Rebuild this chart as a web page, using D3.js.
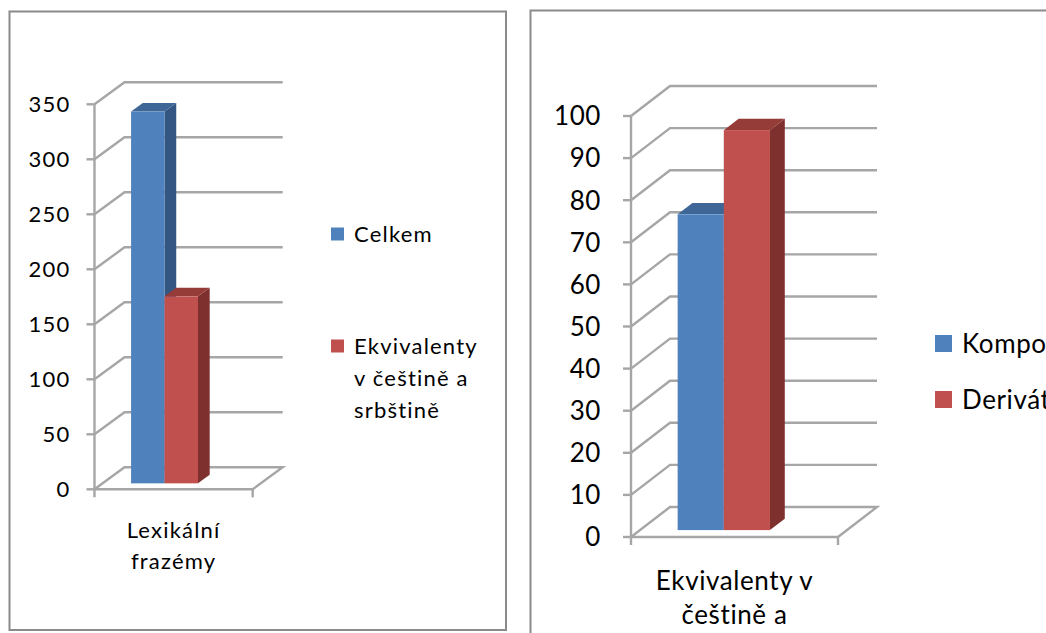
<!DOCTYPE html>
<html>
<head>
<meta charset="utf-8">
<script src="https://cdn.jsdelivr.net/npm/d3@7"></script>
<style>
  html, body { margin: 0; padding: 0; background: #fff; }
  svg { display: block; }
  text { font-family: Lato, "Open Sans", sans-serif; fill: #000; }
</style>
</head>
<body>
<svg id="chart" width="1046" height="633"></svg>
<script>
// Lexical phrasemes: total count and those with equivalents in Czech and Serbian
const leftCategories = ["Lexikální frazémy"];
const leftSeries = ["Celkem", "Ekvivalenty v češtině a srbštině"];
const leftValues = [338, 170];
const leftTicks = [0, 50, 100, 150, 200, 250, 300, 350];

// Equivalents in Czech and Serbian, split by word-formation type
const rightCategories = ["Ekvivalenty v češtině a srbštině"];
const rightSeries = ["Kompozita", "Deriváty"];
const rightValues = [75, 95];
const rightTicks = [0, 10, 20, 30, 40, 50, 60, 70, 80, 90, 100];

// Front, side and top shades of each series colour
const seriesFront = ["#4F81BD", "#C0504D"];
const seriesSide  = ["#345682", "#7D302E"];
const seriesTop   = ["#3E6797", "#953C39"];

const svg = d3.select("#chart");

// Break a string into lines no wider than maxWidth
function wrapLines(text, maxWidth, font, spacing) {
  const probe = svg.append("text").style("font-size", font + "px")
    .style("letter-spacing", spacing + "px");
  const words = text.split(" ");
  const lines = [];
  let line = [];
  words.forEach(w => {
    const tryLine = line.concat([w]).join(" ");
    probe.text(tryLine);
    if (line.length && probe.node().getComputedTextLength() > maxWidth) {
      lines.push(line.join(" "));
      line = [w];
    } else {
      line.push(w);
    }
  });
  if (line.length) lines.push(line.join(" "));
  probe.remove();
  return lines;
}

function drawPanel(cfg) {
  const g = svg.append("g");

  // panel frame
  g.append("rect")
    .attr("x", cfg.frame[0]).attr("y", cfg.frame[1])
    .attr("width", cfg.frame[2]).attr("height", cfg.frame[3])
    .attr("fill", "none").attr("stroke", "#8a8a8a").attr("stroke-width", 2);

  const y = d3.scaleLinear().domain([0, d3.max(cfg.ticks)]).range(cfg.yRange);
  const x = d3.scaleBand().domain(cfg.categories).range(cfg.xRange).padding(0);
  const [dx, dy] = cfg.depth;
  const x0 = cfg.xRange[0], x1 = cfg.xRange[1];
  const grid = "#A6A6A6";
  const gw = 2.4;

  // back wall gridlines with their side-wall diagonals
  cfg.ticks.filter(t => t > 0).forEach(t => {
    g.append("path")
      .attr("d", d3.line()([[x0, y(t)], [x0 + dx, y(t) + dy], [x1 + dx, y(t) + dy]]))
      .attr("fill", "none").attr("stroke", grid).attr("stroke-width", gw);
  });
  // floor
  const y0 = y(0);
  g.append("path")
    .attr("d", d3.line()([[x0, y0], [x0 + dx, y0 + dy], [x1 + dx, y0 + dy], [x1, y0], [x0, y0]]))
    .attr("fill", "none").attr("stroke", grid).attr("stroke-width", gw);
  // value axis line and ticks
  g.append("line").attr("x1", x0).attr("x2", x0)
    .attr("y1", y(d3.max(cfg.ticks))).attr("y2", y0 + 8)
    .attr("stroke", grid).attr("stroke-width", gw);
  cfg.ticks.forEach(t => {
    g.append("line").attr("x1", x0 - 8).attr("x2", x0)
      .attr("y1", y(t)).attr("y2", y(t))
      .attr("stroke", grid).attr("stroke-width", gw);
  });
  g.append("line").attr("x1", x1).attr("x2", x1)
    .attr("y1", y0).attr("y2", y0 + 8)
    .attr("stroke", grid).attr("stroke-width", gw);

  // tick labels
  cfg.ticks.forEach(t => {
    g.append("text").attr("x", x0 - cfg.labelGap).attr("y", y(t))
      .attr("dy", "0.36em").attr("text-anchor", "end")
      .style("font-size", cfg.font + "px").style("letter-spacing", cfg.spacing + "px")
      .text(t);
  });

  // bars
  const ox = dx * cfg.barShift, oy = dy * cfg.barShift;
  const bdx = dx * cfg.barDepth, bdy = dy * cfg.barDepth;
  cfg.categories.forEach(cat => {
    const b0 = x(cat), bw = x.bandwidth();
    const s = d3.scaleBand().domain(cfg.series)
      .range([b0 + bw * cfg.barSpan[0], b0 + bw * cfg.barSpan[1]]).padding(0);
    cfg.series.forEach((name, i) => {
      const v = cfg.values[i];
      const xl = s(name) + ox, xr = xl + s.bandwidth();
      const yt = y(v) + oy, yb = y(0) + oy;
      g.append("path")
        .attr("d", d3.line()([[xr, yt], [xr + bdx, yt + bdy], [xr + bdx, yb + bdy], [xr, yb]]) + "Z")
        .attr("fill", seriesSide[i]);
      g.append("path")
        .attr("d", d3.line()([[xl, yt], [xr, yt], [xr + bdx, yt + bdy], [xl + bdx, yt + bdy]]) + "Z")
        .attr("fill", seriesTop[i]);
      g.append("rect").attr("x", xl).attr("y", yt)
        .attr("width", xr - xl).attr("height", yb - yt)
        .attr("fill", seriesFront[i]);
    });

    // category label
    const lines = wrapLines(cat, cfg.catWrap, cfg.font, cfg.spacing);
    lines.forEach((ln, k) => {
      g.append("text").attr("x", b0 + bw / 2).attr("y", cfg.catY + k * cfg.catLine)
        .attr("text-anchor", "middle")
        .style("font-size", cfg.font + "px").style("letter-spacing", cfg.spacing + "px")
        .text(ln);
    });
  });

  // legend
  cfg.series.forEach((name, i) => {
    const ly = cfg.legendY[i];
    g.append("rect").attr("x", cfg.legendX).attr("y", ly - cfg.swatch / 2)
      .attr("width", cfg.swatch).attr("height", cfg.swatch)
      .attr("fill", seriesFront[i]);
    const lines = wrapLines(name, cfg.legendWrap, cfg.font, cfg.spacing);
    lines.forEach((ln, k) => {
      g.append("text").attr("x", cfg.legendX + cfg.swatch + 10)
        .attr("y", ly + k * cfg.legendLine).attr("dy", "0.36em")
        .style("font-size", cfg.font + "px").style("letter-spacing", cfg.spacing + "px")
        .text(ln);
    });
  });
}

drawPanel({
  frame: [9.5, 11.5, 496.5, 618.5],
  categories: leftCategories, series: leftSeries, values: leftValues, ticks: leftTicks,
  xRange: [94.5, 252.7], yRange: [489.3, 104.3], depth: [30, -22],
  barShift: 0.27, barDepth: 0.39, barSpan: [0.18, 0.603],
  font: 22, spacing: 1.2, labelGap: 24,
  catWrap: 120, catY: 538, catLine: 31,
  legendX: 331, legendY: [234, 346], swatch: 13, legendWrap: 135, legendLine: 32
});

drawPanel({
  frame: [530.5, 10.5, 600, 700],
  categories: rightCategories, series: rightSeries, values: rightValues, ticks: rightTicks,
  xRange: [631, 838], yRange: [537, 116], depth: [39, -30],
  barShift: 0.23, barDepth: 0.38, barSpan: [0.182, 0.628],
  font: 26, spacing: 0.6, labelGap: 30,
  catWrap: 185, catY: 590, catLine: 34,
  legendX: 935, legendY: [343.5, 399.5], swatch: 17, legendWrap: 400, legendLine: 30
});
</script>
</body>
</html>
